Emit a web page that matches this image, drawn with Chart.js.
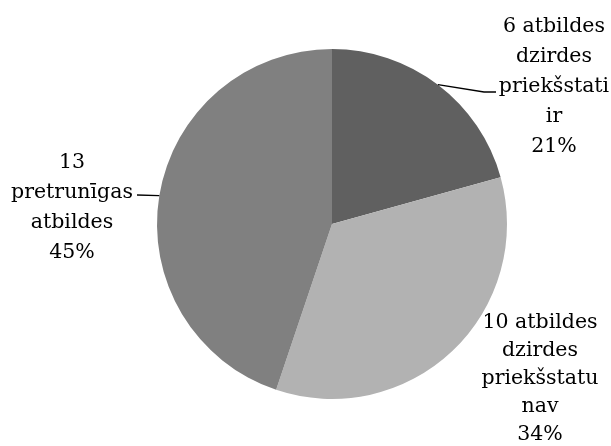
<!DOCTYPE html>
<html>
<head>
<meta charset="utf-8">
<script src="https://cdn.jsdelivr.net/npm/chart.js@4/dist/chart.umd.min.js"></script>
<style>
  html, body { margin: 0; padding: 0; background: #fff; }
  #wrap { position: relative; width: 611px; height: 446px; }
  .slice-label {
    position: absolute;
    transform: translateX(-50%);
    font: 20.5px "DejaVu Serif";
    color: #000;
    text-align: center;
    white-space: nowrap;
  }
</style>
</head>
<body>
<div id="wrap"><canvas id="pie"></canvas></div>
<script>
// answer counts and the wrapped label text that follows each count
const counts = [6, 10, 13];
const categories = [
  ['atbildes', 'dzirdes', 'priekšstati', 'ir'],
  ['atbildes', 'dzirdes', 'priekšstatu', 'nav'],
  ['', 'pretrunīgas', 'atbildes']
];
const colors = ['#606060', '#b2b2b2', '#808080'];

// label block placement: centre x, centre of first line, line step, leader line end
const labelSpots = [
  { x: 554, y: 25, step: 30, leader: [[484, 92], [496, 92]] },
  { x: 540, y: 321, step: 28, leader: null },
  { x: 72, y: 161, step: 30, leader: [[137, 195]] }
];

const sliceLabels = {
  id: 'sliceLabels',
  afterDraw(chart) {
    const ctx = chart.ctx;
    const wrap = chart.canvas.parentNode;
    const data = chart.data.datasets[0].data;
    const total = data.reduce((a, b) => a + b, 0);
    const arcs = chart.getDatasetMeta(0).data;

    wrap.querySelectorAll('.slice-label').forEach(el => el.remove());

    ctx.save();
    ctx.strokeStyle = '#000';
    ctx.lineWidth = 1.3;
    arcs.forEach((arc, i) => {
      const spot = labelSpots[i];
      const lines = categories[i].slice();
      lines[0] = (data[i] + ' ' + lines[0]).trim();
      lines.push(Math.round(data[i] / total * 100) + '%');

      const el = document.createElement('div');
      el.className = 'slice-label';
      el.style.left = spot.x + 'px';
      el.style.top = (spot.y - spot.step / 2) + 'px';
      el.style.lineHeight = spot.step + 'px';
      lines.forEach((t, k) => {
        if (k) el.appendChild(document.createElement('br'));
        el.appendChild(document.createTextNode(t));
      });
      wrap.appendChild(el);

      if (spot.leader) {
        const mid = (arc.startAngle + arc.endAngle) / 2;
        ctx.beginPath();
        ctx.moveTo(arc.x + Math.cos(mid) * arc.outerRadius, arc.y + Math.sin(mid) * arc.outerRadius);
        spot.leader.forEach(p => ctx.lineTo(p[0], p[1]));
        ctx.stroke();
      }
    });
    ctx.restore();
  }
};

new Chart(document.getElementById('pie'), {
  type: 'pie',
  data: {
    labels: categories.map(c => c.join(' ').trim()),
    datasets: [{
      data: counts,
      backgroundColor: colors,
      borderWidth: 0
    }]
  },
  options: {
    responsive: true,
    maintainAspectRatio: false,
    animation: false,
    layout: { padding: { top: 49, bottom: 47, left: 157, right: 104 } },
    plugins: {
      legend: { display: false },
      tooltip: { enabled: false }
    }
  },
  plugins: [sliceLabels]
});
</script>
</body>
</html>
